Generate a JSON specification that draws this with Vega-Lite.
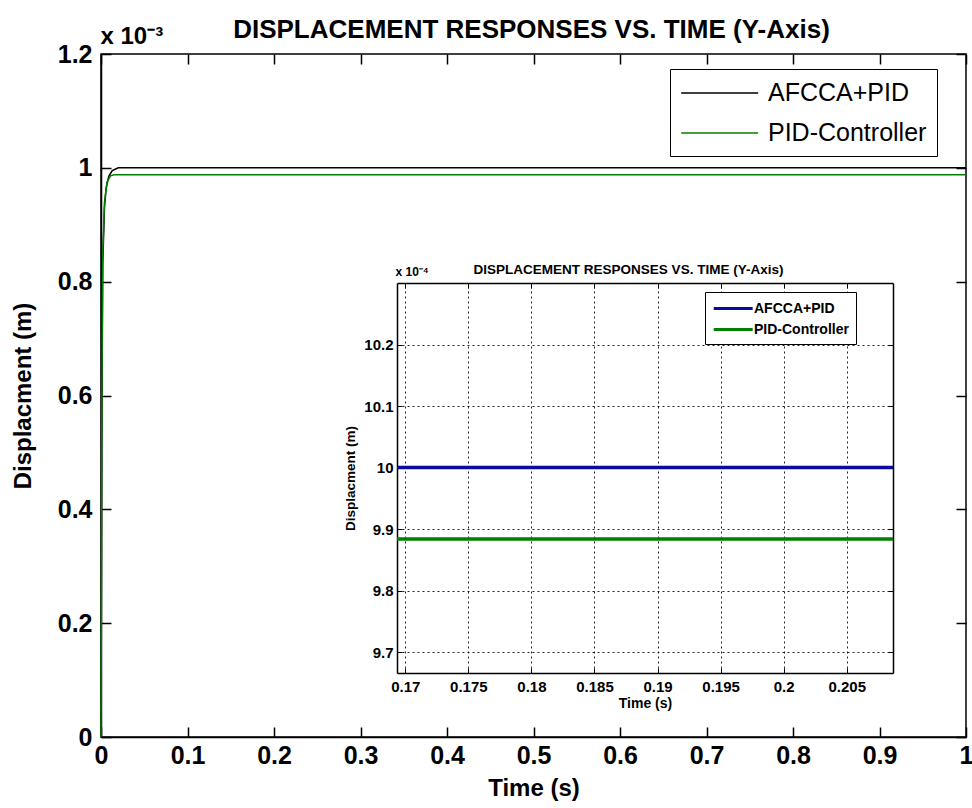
{
  "$schema": "https://vega.github.io/schema/vega-lite/v6.json",
  "width": 865,
  "height": 683,
  "autosize": {"type": "none"},
  "padding": {"left": 101, "top": 54, "right": 6, "bottom": 71},
  "background": "white",
  "config": {
    "font": "Liberation Sans",
    "view": {"stroke": "black", "strokeWidth": 1.5},
    "axis": {"labelColor": "black", "titleColor": "black", "tickColor": "black", "domainColor": "black", "labelFont": "Liberation Sans", "titleFont": "Liberation Sans", "grid": false}
  },
  "datasets": {
    "main": [
      {"t": 0, "disp": 0, "controller": "AFCCA+PID"},
      {"t": 0.001, "disp": 0.55, "controller": "AFCCA+PID"},
      {"t": 0.002, "disp": 0.83, "controller": "AFCCA+PID"},
      {"t": 0.004, "disp": 0.93, "controller": "AFCCA+PID"},
      {"t": 0.006, "disp": 0.965, "controller": "AFCCA+PID"},
      {"t": 0.009, "disp": 0.985, "controller": "AFCCA+PID"},
      {"t": 0.013, "disp": 0.995, "controller": "AFCCA+PID"},
      {"t": 0.02, "disp": 1.0, "controller": "AFCCA+PID"},
      {"t": 1.0, "disp": 1.0, "controller": "AFCCA+PID"},
      {"t": 0, "disp": 0, "controller": "PID-Controller"},
      {"t": 0.001, "disp": 0.6, "controller": "PID-Controller"},
      {"t": 0.002, "disp": 0.85, "controller": "PID-Controller"},
      {"t": 0.004, "disp": 0.94, "controller": "PID-Controller"},
      {"t": 0.007, "disp": 0.975, "controller": "PID-Controller"},
      {"t": 0.011, "disp": 0.986, "controller": "PID-Controller"},
      {"t": 0.015, "disp": 0.988, "controller": "PID-Controller"},
      {"t": 1.0, "disp": 0.988, "controller": "PID-Controller"}
    ],
    "inset": [
      {"t": 0.16934, "disp": 10.0, "controller": "AFCCA+PID"},
      {"t": 0.20867, "disp": 10.0, "controller": "AFCCA+PID"},
      {"t": 0.16934, "disp": 9.884, "controller": "PID-Controller"},
      {"t": 0.20867, "disp": 9.884, "controller": "PID-Controller"}
    ]
  },
  "layer": [
    {
      "layer": [
        {
          "data": {"name": "main"},
          "mark": {"type": "line", "strokeWidth": 1.5},
          "encoding": {
            "x": {"field": "t", "type": "quantitative",
              "scale": {"domain": [0, 1], "nice": false, "zero": false},
              "axis": {"orient": "bottom", "values": [0, 0.1, 0.2, 0.3, 0.4, 0.5, 0.6, 0.7, 0.8, 0.9, 1], "format": "~g",
                "tickSize": -10, "tickWidth": 1.5, "labelPadding": 16, "labelFontSize": 25, "labelFontWeight": "bold",
                "labelFlush": false, "labelOverlap": false, "domainWidth": 1.5,
                "title": "Time (s)", "titleFontSize": 24, "titleFontWeight": "bold", "titlePadding": 8}},
            "y": {"field": "disp", "type": "quantitative",
              "scale": {"domain": [0, 1.2], "nice": false, "zero": false},
              "axis": {"orient": "left", "values": [0, 0.2, 0.4, 0.6, 0.8, 1, 1.2], "format": "~g",
                "tickSize": -10, "tickWidth": 1.5, "labelPadding": 19, "labelFontSize": 25, "labelFontWeight": "bold",
                "labelOverlap": false, "domainWidth": 1.5,
                "title": "Displacment (m)", "titleFontSize": 24, "titleFontWeight": "bold", "titlePadding": 22}},
            "color": {"field": "controller", "type": "nominal",
              "scale": {"domain": ["AFCCA+PID", "PID-Controller"], "range": ["#000000", "#008000"]},
              "legend": {"orient": "none", "legendX": 569, "legendY": 15, "title": null,
                "symbolType": "M-1,0H5", "symbolSize": 658.6, "symbolStrokeWidth": 1.5,
                "labelFontSize": 25, "labelFont": "Liberation Sans", "labelColor": "black", "labelOffset": 60,
                "rowPadding": 13, "padding": 10, "strokeColor": "black", "fillColor": "white", "cornerRadius": 0}}
          }
        },
        {
          "data": {"name": "main"},
          "mark": {"type": "point", "opacity": 0},
          "encoding": {
            "x": {"field": "t", "type": "quantitative",
              "axis": {"orient": "top", "values": [0, 0.1, 0.2, 0.3, 0.4, 0.5, 0.6, 0.7, 0.8, 0.9, 1], "labels": false,
                "tickSize": -10, "tickWidth": 1.5, "domain": false,
                "title": "DISPLACEMENT RESPONSES VS. TIME (Y-Axis)", "titleFontSize": 26, "titleFontWeight": "bold",
                "titleX": 430, "titleY": -17, "titleBaseline": "alphabetic"}},
            "y": {"field": "disp", "type": "quantitative",
              "axis": {"orient": "right", "values": [0, 0.2, 0.4, 0.6, 0.8, 1, 1.2], "labels": false,
                "tickSize": -10, "tickWidth": 1.5, "domain": false,
                "title": "x 10⁻³", "titleAngle": 0, "titleX": -866, "titleY": -11, "titleAlign": "left",
                "titleBaseline": "alphabetic", "titleFontSize": 24, "titleFontWeight": "bold"}}
          }
        }
      ],
      "resolve": {"axis": {"x": "independent", "y": "independent"}}
    },
    {
      "layer": [
        {
          "data": {"name": "inset"},
          "mark": {"type": "line", "strokeWidth": 3.5},
          "encoding": {
            "x": {"field": "t", "type": "quantitative",
              "scale": {"domain": [0.16934, 0.20867], "nice": false, "zero": false, "range": [296, 792]},
              "axis": {"orient": "bottom", "offset": -64, "values": [0.17, 0.175, 0.18, 0.185, 0.19, 0.195, 0.2, 0.205], "format": "~g",
                "grid": false,
                "tickSize": -5, "labelPadding": 11, "labelFontSize": 15, "labelFontWeight": "bold",
                "labelFlush": false, "labelOverlap": false, "domainWidth": 1.5,
                "title": "Time (s)", "titleFontSize": 14, "titleFontWeight": "bold", "titlePadding": 2}},
            "y": {"field": "disp", "type": "quantitative",
              "scale": {"domain": [9.666, 10.3], "nice": false, "zero": false, "range": [619, 229]},
              "axis": {"orient": "left", "offset": -296, "values": [9.7, 9.8, 9.9, 10, 10.1, 10.2], "format": "~g",
                "grid": true, "gridDash": [2, 3], "gridColor": "black", "gridOpacity": 0.85, "gridWidth": 1,
                "tickSize": -5, "labelPadding": 9, "labelFontSize": 15, "labelFontWeight": "bold",
                "labelOverlap": false, "domainWidth": 1.5,
                "title": "Displacment (m)", "titleFontSize": 13.5, "titleFontWeight": "bold", "titlePadding": 6}},
            "color": {"field": "controller", "type": "nominal",
              "scale": {"domain": ["AFCCA+PID", "PID-Controller"], "range": ["#0a0aa0", "#008000"]},
              "legend": {"orient": "none", "legendX": 604, "legendY": 238, "title": null,
                "symbolType": "M-1,0H4", "symbolSize": 243, "symbolStrokeWidth": 3,
                "labelFontSize": 14, "labelFontWeight": "bold", "labelFont": "Liberation Sans", "labelColor": "black", "labelOffset": 23,
                "rowPadding": 4, "padding": 7, "strokeColor": "black", "fillColor": "white", "cornerRadius": 0}}
          }
        },
        {
          "data": {"name": "inset"},
          "mark": {"type": "point", "opacity": 0},
          "encoding": {
            "x": {"field": "t", "type": "quantitative",
              "axis": {"orient": "top", "offset": -229, "values": [0.17, 0.175, 0.18, 0.185, 0.19, 0.195, 0.2, 0.205], "labels": false,
                "grid": true, "gridDash": [2, 3], "gridColor": "black", "gridOpacity": 0.85, "gridWidth": 1,
                "tickSize": -5, "domainWidth": 1.5,
                "title": "DISPLACEMENT RESPONSES VS. TIME (Y-Axis)", "titleX": 527, "titleY": -10, "titleBaseline": "alphabetic",
                "titleFontSize": 13.5, "titleFontWeight": "bold"}},
            "y": {"field": "disp", "type": "quantitative",
              "axis": {"orient": "right", "offset": -73, "values": [9.7, 9.8, 9.9, 10, 10.1, 10.2], "labels": false,
                "grid": false, "tickSize": -5, "domainWidth": 1.5,
                "title": "x 10⁻⁴", "titleAngle": 0, "titleX": -498, "titleY": 221, "titleAlign": "left",
                "titleBaseline": "alphabetic", "titleFontSize": 12, "titleFontWeight": "bold"}}
          }
        }
      ],
      "resolve": {"axis": {"x": "independent", "y": "independent"}}
    }
  ],
  "resolve": {
    "scale": {"x": "independent", "y": "independent", "color": "independent"},
    "axis": {"x": "independent", "y": "independent"},
    "legend": {"color": "independent"}
  }
}
